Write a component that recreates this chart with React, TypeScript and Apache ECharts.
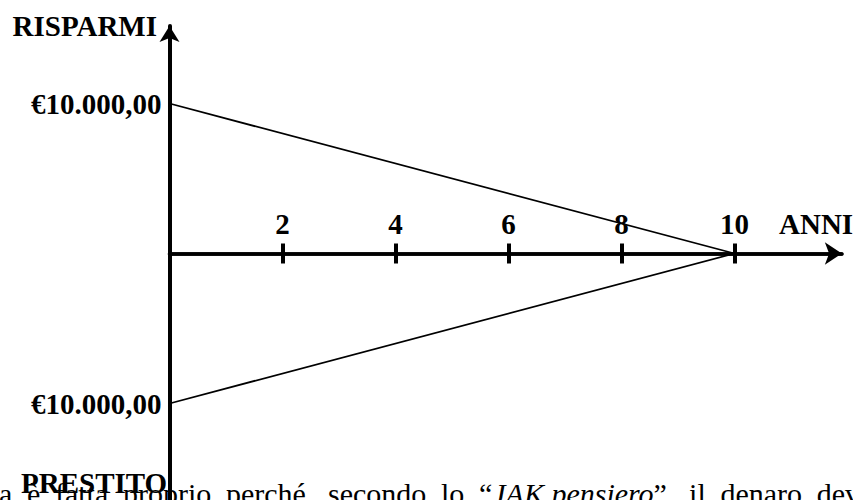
import React, { useEffect, useRef } from 'react';
import * as echarts from 'echarts';

// ---- data ----
const years = [2, 4, 6, 8, 10];
const savingsLine: [number, number][] = [[0, 10000], [10, 0]];
const loanLine: [number, number][] = [[0, -10000], [10, 0]];
const yTopLabelValues = [10000];
const yBottomLabelValues = [-10000];
const yLabelText = '€10.000,00';
const yTopTitle = 'RISPARMI';
const yBottomTitle = 'PRESTITO';
const xTitle = 'ANNI';
// body text line (justified); each word is a list of [text, italic]
const bodyWords: [string, boolean][][] = [
  [['a', false]],
  [['è', false]],
  [['fatta', false]],
  [['proprio', false]],
  [['perché,', false]],
  [['secondo', false]],
  [['lo', false]],
  [['“', false], ['JAK pensiero', true], ['”,', false]],
  [['il', false]],
  [['denaro', false]],
  [['dev', false]],
];

const SERIF = "'Liberation Serif', 'Times New Roman', Times, serif";

export default function App() {
  const ref = useRef<HTMLDivElement>(null);

  useEffect(() => {
    if (!ref.current) return;
    const chart = echarts.init(ref.current, undefined, { renderer: 'svg' });

    // measure words for justified layout
    const cv = document.createElement('canvas');
    const ctx = cv.getContext('2d')!;
    const bodySize = 30;
    const widths = bodyWords.map((w) =>
      w.reduce((s, [t, it]) => {
        ctx.font = `${it ? 'italic ' : ''}${bodySize}px ${SERIF}`;
        return s + ctx.measureText(t).width;
      }, 0)
    );
    const xStart = -1;
    const xEnd = 860;
    const total = widths.reduce((a, b) => a + b, 0);
    const gap = (xEnd - xStart - total) / (bodyWords.length - 1);
    let cx = xStart;
    const bodyGraphics = bodyWords.map((w, i) => {
      const text = w.map(([t, it]) => `{${it ? 'i' : 'n'}|${t}}`).join('');
      const g = {
        type: 'text',
        x: cx,
        y: 493,
        z: 1,
        style: {
          text,
          align: 'left',
          verticalAlign: 'middle',
          fill: '#000',
          rich: {
            n: { fontFamily: SERIF, fontSize: bodySize, color: '#000' },
            i: { fontFamily: SERIF, fontSize: bodySize, fontStyle: 'italic', color: '#000' },
          },
        },
      };
      cx += widths[i] + gap;
      return g;
    });

    const boldText = (text: string, x: number, y: number, align: string) => ({
      type: 'text',
      x,
      y,
      z: 10,
      style: {
        text,
        align,
        verticalAlign: 'middle',
        fill: '#000',
        fontFamily: SERIF,
        fontSize: 29,
        fontWeight: 'bold',
      },
    });

    const xMin = 0;
    const xMax = 11.9;
    const left = 169.5;
    const width = 672.35;
    const zeroY = 253.5;

    const labelFont = {
      color: '#000',
      fontFamily: SERIF,
      fontSize: 29,
      fontWeight: 'bold',
    };

    chart.setOption({
      animation: false,
      backgroundColor: '#fff',
      grid: [
        { left, width, top: 26, height: zeroY - 26, containLabel: false, outerBoundsMode: 'none' },
        { left, width, top: zeroY, height: 501 - zeroY, containLabel: false, outerBoundsMode: 'none' },
      ],
      xAxis: [
        {
          type: 'value',
          gridIndex: 0,
          min: xMin,
          max: xMax,
          position: 'bottom',
          axisLine: {
            show: true,
            onZero: false,
            symbol: ['none', 'arrow'],
            symbolSize: [17, 17],
            lineStyle: { color: '#000', width: 3.5 },
          },
          axisTick: {
            show: true,
            customValues: years,
            length: 10,
            inside: false,
            lineStyle: { color: '#000', width: 4 },
          },
          axisLabel: {
            show: true,
            customValues: years,
            inside: true,
            margin: 30,
            verticalAlign: 'middle',
            ...labelFont,
          },
          splitLine: { show: false },
          z: 5,
        },
        {
          type: 'value',
          gridIndex: 1,
          min: xMin,
          max: xMax,
          position: 'top',
          axisLine: { show: true, onZero: false, lineStyle: { color: '#000', width: 3.5 } },
          axisTick: {
            show: true,
            customValues: years,
            length: 10,
            inside: false,
            lineStyle: { color: '#000', width: 4 },
          },
          axisLabel: { show: false },
          splitLine: { show: false },
          z: 5,
        },
      ],
      yAxis: [
        {
          type: 'value',
          gridIndex: 0,
          min: 0,
          max: 15167,
          axisLine: {
            show: true,
            onZero: false,
            symbol: ['none', 'arrow'],
            symbolSize: [15, 16],
            lineStyle: { color: '#000', width: 4 },
          },
          axisTick: { show: false },
          axisLabel: {
            show: true,
            customValues: yTopLabelValues,
            formatter: () => yLabelText,
            margin: 8,
            ...labelFont,
          },
          splitLine: { show: false },
        },
        {
          type: 'value',
          gridIndex: 1,
          min: -16500,
          max: 0,
          axisLine: {
            show: true,
            onZero: false,
            lineStyle: { color: '#000', width: 4 },
          },
          axisTick: { show: false },
          axisLabel: {
            show: true,
            customValues: yBottomLabelValues,
            formatter: () => yLabelText,
            margin: 8,
            ...labelFont,
          },
          splitLine: { show: false },
        },
      ],
      series: [
        {
          type: 'line',
          xAxisIndex: 0,
          yAxisIndex: 0,
          data: savingsLine,
          symbol: 'none',
          lineStyle: { color: '#000', width: 1.8 },
          z: 3,
        },
        {
          type: 'line',
          xAxisIndex: 1,
          yAxisIndex: 1,
          data: loanLine,
          symbol: 'none',
          lineStyle: { color: '#000', width: 1.8 },
          z: 3,
        },
      ],
      graphic: [
        ...bodyGraphics,
        boldText(yTopTitle, 157, 26, 'right'),
        boldText(yBottomTitle, 21, 483, 'left'),
        boldText(xTitle, 779, 223.5, 'left'),
      ],
    });

    return () => chart.dispose();
  }, []);

  return (
    <div
      ref={ref}
      style={{ position: 'fixed', left: 0, top: 0, width: 853, height: 500, background: '#fff' }}
    />
  );
}
